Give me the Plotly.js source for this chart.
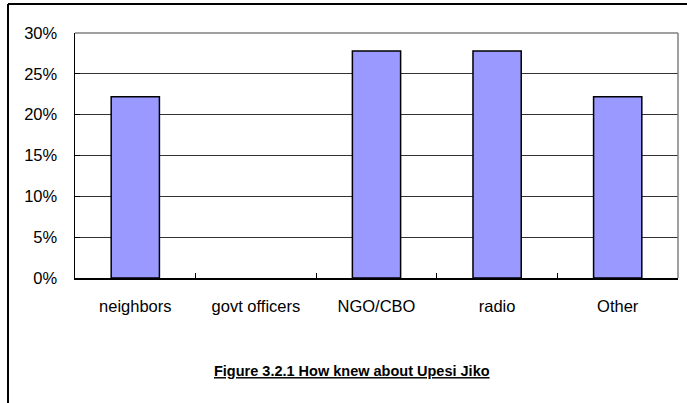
<!DOCTYPE html>
<html>
<head>
<meta charset="utf-8">
<script src="https://cdn.plot.ly/plotly-3.0.1.min.js"></script>
<style>html,body{margin:0;padding:0;background:#fff;}#chart{width:687px;height:403px;}</style>
</head>
<body>
<div id="chart"></div>
<script>
const categories = ["neighbors", "govt officers", "NGO/CBO", "radio", "Other"];
const values = [22.2, 0, 27.8, 27.8, 22.2];
const yTicks = [0, 5, 10, 15, 20, 25, 30];
const yTickLabels = ["0%", "5%", "10%", "15%", "20%", "25%", "30%"];
const titleText = "Figure 3.2.1 How knew about Upesi Jiko";

const trace = {
  type: "bar",
  x: categories,
  y: values,
  marker: {
    color: "#9999FF",
    line: { color: "#000000", width: values.map(v => (v > 0 ? 1.5 : 0)) }
  },
  hoverinfo: "skip"
};

const layout = {
  width: 687, height: 403,
  margin: { l: 75, r: 9, t: 33, b: 125 },
  paper_bgcolor: "#ffffff", plot_bgcolor: "#ffffff",
  font: { family: "Liberation Sans, Arial, sans-serif", size: 16.5, color: "#000" },
  bargap: 0.6,
  showlegend: false,
  title: {
    text: "<b><u>" + titleText + "</u></b>",
    font: { family: "Liberation Sans, Arial, sans-serif", size: 14.5, color: "#000" },
    xref: "paper", x: 0.459, xanchor: "center",
    yref: "container", y: 1 - 371 / 403, yanchor: "middle"
  },
  xaxis: {
    type: "category",
    showline: true, linecolor: "#000", linewidth: 1.5,
    ticks: "inside", tickson: "boundaries", ticklen: 5, tickcolor: "#000",
    showgrid: false, zeroline: false,
    tickfont: { size: 16.5 }, ticklabelstandoff: 13
  },
  yaxis: {
    range: [0, 30], tickmode: "array", tickvals: yTicks, ticktext: yTickLabels,
    showline: true, linecolor: "#000", linewidth: 1.5,
    ticks: "inside", ticklen: 5, tickcolor: "#000",
    showgrid: true, gridcolor: "#333", gridwidth: 1,
    zeroline: false, tickfont: { size: 16.5 }, ticklabelstandoff: 13
  },
  shapes: [
    { type: "line", xref: "paper", yref: "paper", x0: 0, x1: 1, y0: 1, y1: 1, line: { color: "#808080", width: 1.5 } },
    { type: "line", xref: "paper", yref: "paper", x0: 1, x1: 1, y0: 0, y1: 1, line: { color: "#808080", width: 1.5 } },
    { type: "line", xref: "paper", yref: "paper", x0: (8 - 75) / 603, x1: (8 - 75) / 603, y0: (278 - 4) / 245, y1: (278 - 410) / 245, line: { color: "#000", width: 2 } },
    { type: "line", xref: "paper", yref: "paper", x0: (8 - 75) / 603, x1: (690 - 75) / 603, y0: (278 - 4) / 245, y1: (278 - 4) / 245, line: { color: "#000", width: 2 } }
  ]
};

Plotly.newPlot("chart", [trace], layout, { displayModeBar: false, staticPlot: true });
</script>
</body>
</html>
